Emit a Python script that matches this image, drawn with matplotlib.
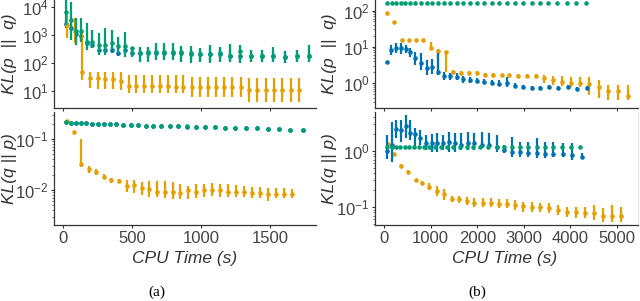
import matplotlib
matplotlib.use("Agg")
import matplotlib.pyplot as plt
from matplotlib.ticker import NullFormatter, LogLocator
import numpy as np

plt.rcParams['font.family'] = ['Liberation Sans', 'DejaVu Sans']
plt.rcParams['mathtext.fontset'] = 'custom'
plt.rcParams['mathtext.rm'] = 'Liberation Sans'
plt.rcParams['mathtext.it'] = 'Liberation Sans:italic'
plt.rcParams['mathtext.bf'] = 'Liberation Sans:bold'

BLUE = '#0072B2'
ORANGE = '#E69F00'
GREEN = '#009E73'

# ---------------- panel (a), KL(p||q) ----------------
t_a_pq_green = [22, 58, 94, 130, 172, 213, 261, 304, 353, 401, 451, 502, 558, 613, 671,
                732, 794, 857, 925, 993, 1065, 1138, 1210, 1283, 1362, 1444, 1524, 1609, 1693, 1785]
green_a_pq = [6900, 3500, 1380, 1380, 550, 550, 440, 440, 525, 415, 415, 330, 230, 250, 250,
              240, 240, 250, 220, 205, 205, 220, 180, 265, 180, 178, 180, 165, 180, 180]
green_a_pq_lo = [2300, 660, 440, 575, 290, 330, 190, 190, 290, 220, 166, 158, 110, 110, 126,
                 126, 126, 110, 100, 110, 95, 110, 110, 95, 110, 110, 110, 110, 110, 110]
green_a_pq_hi = [25000, 15800, 4000, 4000, 2630, 1510, 1150, 1740, 1510, 870, 1320, 380, 380, 380, 500,
                 500, 500, 400, 400, 330, 440, 380, 460, 440, 290, 290, 360, 250, 290, 440]

blue_a_pq = [2450, 1740, 1120, 910, 500, 440, 290, 290, 290, 230, 290, 230, 220, 220, 230,
             230, 230, 220, 210, 200, 205, 210, 180, 175, 180, 178, 180, 160, 180, 180]
blue_a_pq_lo = [1800, 1300, 800, 620, 340, 340, 230, 230, 230, 180, 200, 170, 140, 140, 150,
                150, 150, 120, 130, 110, 110, 120, 110, 100, 110, 110, 110, 100, 110, 110]
blue_a_pq_hi = [3200, 2400, 1500, 1300, 700, 620, 400, 400, 400, 330, 420, 320, 330, 330, 360,
                360, 330, 380, 320, 300, 330, 320, 300, 260, 280, 260, 260, 260, 300, 300]

t_a_pq_orange = [27, 84, 140, 196, 251, 304, 360, 418, 478, 529, 589, 643, 703, 759, 817,
                 872, 932, 993, 1053, 1109, 1167, 1228, 1288, 1350, 1408, 1469, 1529, 1590, 1652, 1712]
orange_a_pq = [2240, 1380, 48, 27.5, 27.5, 25.7, 25.7, 22.4, 15.1, 15.1, 15.1, 15.1, 15.1, 15.1, 13.8,
               13.8, 13.8, 13.8, 13.8, 13.8, 13.8, 13.8, 13.8, 10.5, 10.5, 10.5, 10.5, 10.5, 10.5, 10.5]
orange_a_pq_lo = [760, 500, 24, 13, 11.2, 11.2, 11.2, 10.5, 8.3, 8.3, 8.3, 8.3, 8.3, 8.3, 8.3,
                  8.3, 6.0, 6.0, 6.0, 6.0, 6.0, 6.0, 6.0, 4.0, 4.0, 4.0, 4.0, 4.0, 4.0, 4.0]
orange_a_pq_hi = [6000, 4000, 1150, 48, 48, 48, 48, 48, 36, 36, 36, 36, 36, 36, 36,
                  36, 30, 30, 30, 30, 30, 30, 30, 27.5, 27.5, 27.5, 27.5, 27.5, 27.5, 27.5]

# ---------------- panel (a), KL(q||p) ----------------
t_a_qp_green = [20, 56, 92, 128, 167, 208, 251, 295, 341, 386, 437, 491, 541, 599, 654,
                712, 775, 835, 896, 964, 1029, 1099, 1172, 1249, 1326, 1404, 1483, 1565, 1647, 1737]
green_a_qp = [0.212, 0.209, 0.206, 0.206, 0.203, 0.200, 0.200, 0.197, 0.194, 0.194, 0.191, 0.188, 0.188, 0.183, 0.183,
              0.183, 0.180, 0.177, 0.177, 0.175, 0.172, 0.169, 0.167, 0.164, 0.162, 0.162, 0.157, 0.155, 0.152, 0.150]
blue_a_qp = [0.211, 0.209, 0.206, 0.205, 0.203, 0.200, 0.199, 0.197, 0.194, 0.193, 0.191, 0.188, 0.186, 0.183, 0.182,
             0.182, 0.180, 0.177, 0.176, 0.175, 0.172, 0.169, 0.166, 0.164, 0.162, 0.161, 0.157, 0.155, 0.152, 0.150]

t_a_qp_orange = [27, 80, 133, 186, 241, 297, 350, 406, 461, 514, 570, 625, 681, 737, 795,
                 850, 906, 964, 1022, 1080, 1136, 1193, 1251, 1309, 1367, 1425, 1483, 1541, 1601, 1662]
orange_a_qp = [0.225, 0.139, 0.0324, 0.0257, 0.0229, 0.0182, 0.0155, 0.0151, 0.0120, 0.0126, 0.0112, 0.0107, 0.0093, 0.0093, 0.0093,
               0.0089, 0.0100, 0.0093, 0.0100, 0.0100, 0.0100, 0.0091, 0.0091, 0.0091, 0.0089, 0.0089, 0.0083, 0.0083, 0.0083, 0.0083]
orange_a_qp_lo = [0.225, 0.139, 0.0288, 0.0219, 0.0197, 0.0169, 0.0139, 0.0137, 0.0093, 0.0086, 0.0080, 0.0072, 0.0074, 0.0069, 0.0066,
                  0.0066, 0.0066, 0.0069, 0.0072, 0.0076, 0.0074, 0.0072, 0.0074, 0.0072, 0.0069, 0.0069, 0.0062, 0.0069, 0.0069, 0.0069]
orange_a_qp_hi = [0.225, 0.139, 0.102, 0.0296, 0.0254, 0.0203, 0.0169, 0.0164, 0.0157, 0.0157, 0.0146, 0.0150, 0.0150, 0.0152, 0.0146,
                  0.0131, 0.0120, 0.0131, 0.0131, 0.0140, 0.0131, 0.0131, 0.0125, 0.0120, 0.0116, 0.0113, 0.0108, 0.0108, 0.0108, 0.0105]

# ---------------- panel (b), KL(p||q) ----------------
t_b_pq_green = [58, 165, 258, 358, 457, 565, 672, 794, 916, 1030, 1152, 1281, 1416, 1560, 1702,
                1845, 1989, 2146, 2311, 2474, 2633, 2811, 2989, 3169, 3349, 3526, 3719, 3921, 4120, 4328]
green_b_pq = [164, 164, 164, 164, 164, 164, 164, 164, 164, 164, 164, 164, 164, 164, 164,
              164, 164, 164, 164, 164, 164, 164, 164, 164, 164, 164, 164, 164, 164, 164]

t_b_pq_blue = [58, 150, 258, 358, 466, 558, 672, 794, 916, 1030, 1152, 1288, 1416, 1560, 1702,
               1845, 1989, 2152, 2311, 2474, 2633, 2811, 2989, 3169, 3348, 3547, 3740, 3942, 4148, 4350]
blue_b_pq = [3.74, 8.17, 9.10, 9.44, 8.71, 7.08, 5.01, 3.63, 2.63, 2.82, 2.04, 1.58, 1.55, 1.51, 1.26,
             1.23, 1.15, 1.10, 1.02, 0.95, 1.00, 0.85, 0.76, 0.74, 0.72, 0.76, 0.72, 0.76, 0.69, 0.74]
blue_b_pq_lo = [3.5, 5.9, 6.6, 6.3, 6.6, 5.4, 3.2, 2.3, 1.66, 1.75, 1.66, 1.22, 1.22, 1.22, 1.03,
                1.03, 0.98, 0.95, 0.88, 0.82, 0.80, 0.74, 0.68, 0.66, 0.64, 0.68, 0.64, 0.68, 0.62, 0.66]
blue_b_pq_hi = [4.0, 11.2, 12.5, 13, 11.2, 9.1, 7.3, 6.6, 4.4, 4.6, 6.6, 2.04, 1.9, 1.85, 1.57,
                1.45, 1.35, 1.3, 1.2, 1.2, 1.45, 1.0, 0.88, 0.85, 0.83, 0.88, 0.83, 0.88, 0.80, 0.84]

t_b_pq_orange = [71, 221, 379, 536, 687, 844, 1002, 1152, 1330, 1487, 1652, 1824, 1996, 2167, 2346,
                 2526, 2689, 2882, 3062, 3255, 3440, 3620, 3826, 4013, 4206, 4406, 4607, 4813, 5015, 5230]
orange_b_pq = [83, 49, 15.5, 15.5, 15.5, 15.5, 9.5, 7.8, 7.1, 2.04, 1.95, 1.95, 1.86, 1.66, 1.66,
               1.62, 1.62, 1.58, 1.58, 1.58, 1.35, 1.23, 1.10, 1.02, 1.02, 0.95, 0.76, 0.62, 0.62, 0.44]
orange_b_pq_lo = [83, 49, 15.5, 15.5, 15.5, 15.5, 8.1, 2.04, 2.04, 1.74, 1.75, 1.75, 1.66, 1.5, 1.5,
                  1.45, 1.45, 1.42, 1.4, 1.4, 1.02, 0.87, 0.83, 0.79, 0.77, 0.46, 0.38, 0.34, 0.34, 0.34]
orange_b_pq_hi = [83, 49, 15.5, 15.5, 15.5, 15.5, 13.8, 8.5, 7.4, 2.34, 2.2, 2.2, 2.1, 1.86, 1.86,
                  1.82, 1.82, 1.78, 1.78, 1.78, 1.66, 1.58, 1.58, 1.45, 1.45, 1.45, 1.23, 0.89, 0.89, 0.89]

# ---------------- panel (b), KL(q||p) ----------------
t_b_qp_green = [58, 165, 258, 343, 451, 543, 644, 758, 858, 972, 1094, 1217, 1345, 1488, 1631,
                1775, 1917, 2060, 2238, 2418, 2575, 2740, 2918, 3097, 3277, 3455, 3633, 3813, 4006, 4206]
green_b_qp = [1.19, 1.19, 1.19, 1.19, 1.19, 1.19, 1.19, 1.19, 1.19, 1.19, 1.19, 1.19, 1.19, 1.19, 1.19,
              1.19, 1.19, 1.19, 1.19, 1.19, 1.19, 1.19, 1.19, 1.19, 1.19, 1.19, 1.19, 1.19, 1.19, 1.19]

t_b_qp_blue = [58, 165, 258, 358, 465, 558, 665, 773, 901, 1023, 1144, 1258, 1387, 1523, 1659,
               1796, 1938, 2096, 2260, 2418, 2581, 2740, 2918, 3097, 3277, 3455, 3633, 3835, 4028, 4243]
blue_b_qp = [1.0, 1.29, 2.45, 2.37, 2.82, 2.14, 2.0, 1.70, 1.38, 1.38, 1.38, 1.41, 1.43, 1.38, 1.29,
             1.38, 1.38, 1.29, 1.29, 1.20, 1.05, 0.98, 0.98, 0.93, 0.93, 0.89, 0.89, 0.89, 0.85, 0.79]
blue_b_qp_lo = [0.71, 0.64, 1.68, 1.47, 1.68, 1.57, 1.12, 1.28, 1.04, 0.97, 0.97, 1.04, 0.97, 0.97, 1.04,
                1.04, 1.04, 1.12, 1.12, 0.97, 0.91, 0.79, 0.79, 0.79, 0.74, 0.74, 0.79, 0.79, 0.69, 0.74]
blue_b_qp_hi = [1.93, 3.34, 3.58, 3.58, 4.4, 3.58, 2.54, 2.37, 1.93, 2.01, 2.07, 1.93, 2.21, 2.07, 2.07,
                2.21, 2.07, 2.21, 2.07, 1.93, 1.28, 1.80, 1.47, 1.47, 1.68, 1.47, 1.47, 1.38, 1.38, 0.91]

t_b_qp_orange = [83, 222, 365, 522, 680, 822, 973, 1131, 1288, 1453, 1609, 1775, 1938, 2118, 2290,
                 2468, 2633, 2811, 2989, 3169, 3348, 3541, 3727, 3920, 4113, 4307, 4500, 4693, 4893, 5092]
orange_b_qp = [1.32, 0.87, 0.55, 0.43, 0.30, 0.27, 0.23, 0.195, 0.174, 0.141, 0.138, 0.129, 0.120, 0.120, 0.117,
               0.112, 0.112, 0.110, 0.105, 0.102, 0.102, 0.095, 0.089, 0.083, 0.083, 0.079, 0.078, 0.069, 0.069, 0.069]
orange_b_qp_lo = [1.25, 0.82, 0.52, 0.40, 0.28, 0.25, 0.201, 0.155, 0.133, 0.125, 0.12, 0.11, 0.101, 0.101, 0.101,
                  0.098, 0.098, 0.089, 0.083, 0.083, 0.083, 0.077, 0.072, 0.067, 0.063, 0.063, 0.059, 0.055, 0.055, 0.055]
orange_b_qp_hi = [1.40, 0.92, 0.58, 0.46, 0.32, 0.29, 0.265, 0.24, 0.214, 0.16, 0.16, 0.15, 0.143, 0.143, 0.143,
                  0.14, 0.14, 0.133, 0.125, 0.125, 0.118, 0.118, 0.109, 0.101, 0.101, 0.101, 0.109, 0.097, 0.109, 0.101]


def draw(ax, t, y, color, z, lo=None, hi=None):
    y = np.array(y, dtype=float)
    if lo is None:
        ax.plot(t, y, 'o', color=color, ms=3.3, mew=0, zorder=z)
        return
    lo = np.array(lo, dtype=float)
    hi = np.array(hi, dtype=float)
    ax.errorbar(t, y, yerr=[y - lo, hi - y], fmt='o', color=color, ms=3.3, mew=0,
                elinewidth=1.6, capsize=0, zorder=z)


def style(ax, xlim, ylim, xticks, yticks, ylabel, show_x):
    ax.set_yscale('log')
    ax.set_xlim(*xlim)
    ax.set_ylim(*ylim)
    ax.set_xticks(xticks)
    ax.set_yticks(yticks)
    ax.yaxis.set_minor_locator(LogLocator(base=10, subs=np.arange(2, 10)))
    ax.yaxis.set_minor_formatter(NullFormatter())
    for s in ['top', 'right']:
        ax.spines[s].set_visible(False)
    for s in ['left', 'bottom']:
        ax.spines[s].set_color('#333333')
        ax.spines[s].set_linewidth(0.9)
    ax.tick_params(which='major', length=2.5, width=0.8, colors='#333333',
                   labelcolor='#444444', labelsize=12, pad=1.5)
    ax.tick_params(which='minor', length=1.2, width=0.6, colors='#555555')
    if not show_x:
        ax.tick_params(axis='x', labelbottom=False)
    ax.set_ylabel(ylabel, fontsize=12.5, style='italic', color='#333333')


fig = plt.figure(figsize=(6.4, 3.01), dpi=100)

ax_a1 = fig.add_axes([54 / 640, 1 - 108 / 301, 262 / 640, 108 / 301])
ax_a2 = fig.add_axes([54 / 640, 1 - 225 / 301, 262 / 640, 113 / 301])
ax_b1 = fig.add_axes([375 / 640, 1 - 108 / 301, 263 / 640, 108 / 301])
ax_b2 = fig.add_axes([375 / 640, 1 - 225 / 301, 263 / 640, 113 / 301])

# (a) top
draw(ax_a1, t_a_pq_green, blue_a_pq, BLUE, 2, blue_a_pq_lo, blue_a_pq_hi)
draw(ax_a1, t_a_pq_orange, orange_a_pq, ORANGE, 3, orange_a_pq_lo, orange_a_pq_hi)
draw(ax_a1, t_a_pq_green, green_a_pq, GREEN, 4, green_a_pq_lo, green_a_pq_hi)
style(ax_a1, (-65, 1833), (2.4, 18000), [0, 500, 1000, 1500], [10, 100, 1000, 10000],
      'KL(p  ||  q)', False)

# (a) bottom
draw(ax_a2, t_a_qp_green, blue_a_qp, BLUE, 2)
draw(ax_a2, t_a_qp_orange, orange_a_qp, ORANGE, 3, orange_a_qp_lo, orange_a_qp_hi)
draw(ax_a2, t_a_qp_green, green_a_qp, GREEN, 4)
style(ax_a2, (-65, 1833), (0.00206, 0.339), [0, 500, 1000, 1500], [0.01, 0.1],
      'KL(q || p)', True)

# (b) top
draw(ax_b1, t_b_pq_orange, orange_b_pq, ORANGE, 2, orange_b_pq_lo, orange_b_pq_hi)
draw(ax_b1, t_b_pq_blue, blue_b_pq, BLUE, 3, blue_b_pq_lo, blue_b_pq_hi)
draw(ax_b1, t_b_pq_green, green_b_pq, GREEN, 4)
style(ax_b1, (-193, 5450), (0.206, 195), [0, 1000, 2000, 3000, 4000, 5000], [1, 10, 100],
      'KL(p  ||  q)', False)

# (b) bottom
draw(ax_b2, t_b_qp_orange, orange_b_qp, ORANGE, 2, orange_b_qp_lo, orange_b_qp_hi)
draw(ax_b2, t_b_qp_blue, blue_b_qp, BLUE, 3, blue_b_qp_lo, blue_b_qp_hi)
draw(ax_b2, t_b_qp_green, green_b_qp, GREEN, 4)
style(ax_b2, (-193, 5450), (0.0478, 4.97), [0, 1000, 2000, 3000, 4000, 5000], [0.1, 1],
      'KL(q || p)', True)
ax_b2.spines['right'].set_visible(True)
ax_b2.spines['right'].set_color('#e6e6e6')

for ax in (ax_a1, ax_a2):
    ax.yaxis.set_label_coords(-0.14, 0.5)
for ax in (ax_b1, ax_b2):
    ax.yaxis.set_label_coords(-0.143, 0.5)

fig.text(185 / 640, 1 - 259 / 301, 'CPU Time (s)', ha='center', va='center',
         fontsize=12.5, style='italic', color='#333333')
fig.text(505 / 640, 1 - 259 / 301, 'CPU Time (s)', ha='center', va='center',
         fontsize=12.5, style='italic', color='#333333')
fig.text(157 / 640, 1 - 292 / 301, '(a)', ha='center', va='center',
         fontsize=11, family='Liberation Serif', color='black')
fig.text(477 / 640, 1 - 292 / 301, '(b)', ha='center', va='center',
         fontsize=11, family='Liberation Serif', color='black')

fig.savefig('out.png', dpi=100)
